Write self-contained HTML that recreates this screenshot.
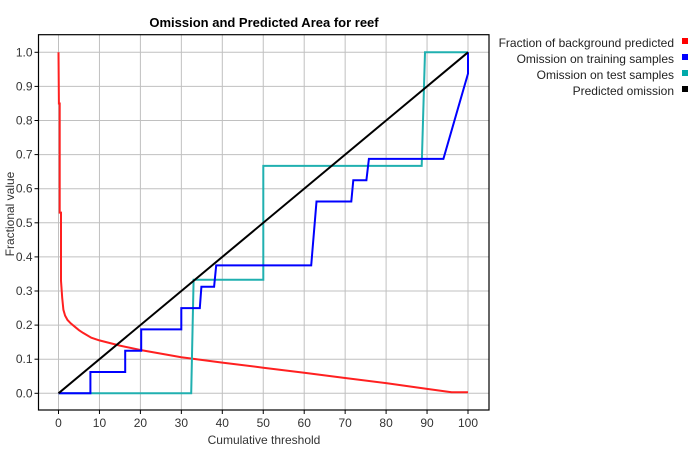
<!DOCTYPE html>
<html><head><meta charset="utf-8"><style>
body{margin:0;background:#fff;}
svg{display:block;font-family:"Liberation Sans",sans-serif;}
</style></head><body>
<svg id="chart" width="700" height="450"></svg>
<script>
const xTicks=[0,10,20,30,40,50,60,70,80,90,100];
const yTicks=[0,0.1,0.2,0.3,0.4,0.5,0.6,0.7,0.8,0.9,1.0];
const bgX=[0,0.1,0.3,0.3,0.6,0.6,0.9,1.2,1.6,2.2,3,4,5,6,8,10,15,20,30,40,50,60,70,80,90,96,100];
const bgY=[1,0.85,0.85,0.53,0.53,0.33,0.28,0.245,0.228,0.215,0.205,0.195,0.185,0.177,0.163,0.155,0.14,0.127,0.106,0.09,0.075,0.06,0.045,0.03,0.013,0.003,0.003];
const trainX=[0,7.8,7.8,16.3,16.3,20.2,20.2,30,30,34.5,34.9,38,38.5,61.7,63,71.5,72,75.2,75.8,94,100,100];
const trainY=[0,0,0.0625,0.0625,0.125,0.125,0.1875,0.1875,0.25,0.25,0.3125,0.3125,0.375,0.375,0.5625,0.5625,0.625,0.625,0.6875,0.6875,0.9375,1];
const testX=[0,32.4,33,50,50,88.7,89.5,100];
const testY=[0,0,0.333,0.333,0.667,0.667,1,1];
const predX=[0,100];
const predY=[0,1];
const legendLabels=["Fraction of background predicted","Omission on training samples","Omission on test samples","Predicted omission"];
const legendColors=["#ff0000","#0000ff","#00aaaa","#000000"];

const NS="http://www.w3.org/2000/svg";
const svg=document.getElementById('chart');
const L=38.5,T=34.7,R=489,B=410;
const sx=v=>58.5+v*4.095;
const sy=v=>393.3-v*341;
function mk(tag,attrs,parent){const e=document.createElementNS(NS,tag);for(const k in attrs)e.setAttribute(k,attrs[k]);(parent||svg).appendChild(e);return e;}

const title=mk('text',{x:264,y:27,'text-anchor':'middle','font-size':13,'font-weight':'bold'});
title.textContent="Omission and Predicted Area for reef";



const grid=mk('g',{});


xTicks.forEach(t=>{
  mk('line',{x1:sx(t),x2:sx(t),y1:T,y2:B,stroke:'#c0c0c0','stroke-width':1},grid);
  mk('line',{x1:sx(t),x2:sx(t),y1:B,y2:B+4,stroke:'#000'},grid);
  const tx=mk('text',{x:sx(t),y:B+17,'text-anchor':'middle','font-size':12,fill:'#333'});
  tx.textContent=t;
  
  
});
yTicks.forEach(t=>{
  mk('line',{x1:L,x2:R,y1:sy(t),y2:sy(t),stroke:'#c0c0c0','stroke-width':1},grid);
  mk('line',{x1:L-4,x2:L,y1:sy(t),y2:sy(t),stroke:'#000'},grid);
  const tx=mk('text',{x:L-6,y:sy(t)+4,'text-anchor':'end','font-size':12,fill:'#333'});
  tx.textContent=t.toFixed(1);
  
  
});
const frame=mk('rect',{x:L,y:T,width:R-L,height:B-T,fill:'none',stroke:'#000','stroke-width':1.2});



const xl=mk('text',{x:264,y:444,'text-anchor':'middle','font-size':12,fill:'#333'});
xl.textContent="Cumulative threshold";


const yl=mk('text',{x:0,y:0,'text-anchor':'middle','font-size':12,fill:'#333',transform:'translate(14,214) rotate(-90)'});
yl.textContent="Fractional value";



function series(xs,ys,color,name){
  const d=xs.map((x,i)=>(i?'L':'M')+sx(x).toFixed(1)+','+sy(ys[i]).toFixed(1)).join(' ');
  const p=mk('path',{d:d,fill:'none',stroke:color,'stroke-width':2});
  
  
}
series(bgX,bgY,'#ff2020','background-predicted-line');
series(testX,testY,'#20b0b0','test-omission-line');
series(trainX,trainY,'#0000ff','training-omission-line');
series(predX,predY,'#000000','predicted-omission-line');

legendLabels.forEach((lab,i)=>{
  const y=47+i*16;
  const g=mk('g',{});
  
  
  const t=mk('text',{x:674,y:y,'text-anchor':'end','font-size':12,fill:'#222'},g);
  t.textContent=lab;
  mk('rect',{x:682,y:y-9,width:6,height:6,fill:legendColors[i]},g);
});
</script>
</body></html>
